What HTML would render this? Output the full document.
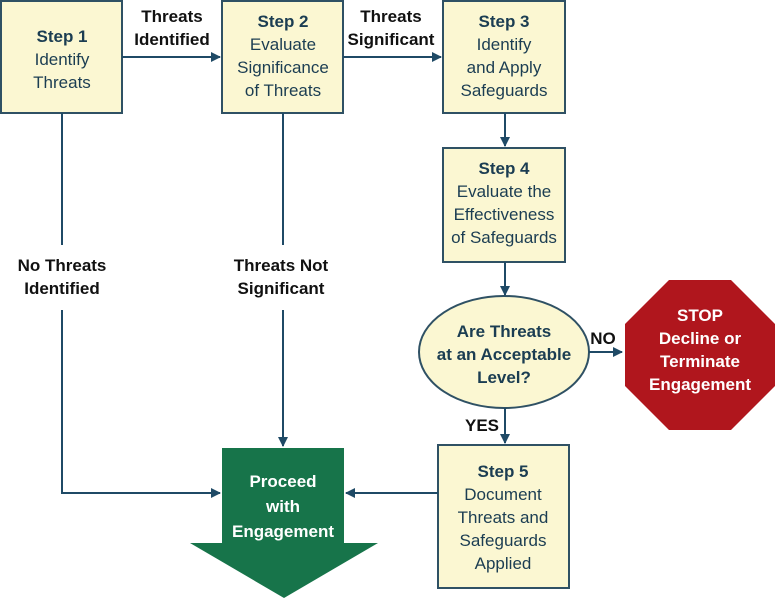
<!DOCTYPE html>
<html><head><style>
body{margin:0;background:#fff}
svg text{font-family:"Liberation Sans",sans-serif;font-size:17px;text-anchor:middle}
.b{font-weight:bold}
.d{fill:#1b3d52}
.w{fill:#fff}
.k{fill:#111}
</style></head><body>
<svg width="775" height="598" viewBox="0 0 775 598" xmlns="http://www.w3.org/2000/svg">
<defs><marker id="a" markerWidth="10" markerHeight="10" refX="9" refY="5" orient="auto" markerUnits="userSpaceOnUse"><path d="M0,0 L10,5 L0,10 Z" fill="#1f4a66"/></marker></defs>
<g fill="#fbf7d2" stroke="#2f5164" stroke-width="2">
<rect x="1" y="1" width="121" height="112"/>
<rect x="222" y="1" width="121" height="112"/>
<rect x="443" y="1" width="122" height="112"/>
<rect x="443" y="148" width="122" height="114"/>
<rect x="438" y="445" width="131" height="143"/>
<ellipse cx="504" cy="352" rx="85" ry="56"/>
</g>
<polygon points="669,280 731,280 775,324 775,386 731,430 669,430 625,386 625,324" fill="#b0161d"/>
<polygon points="222,448 344,448 344,543 378,543 284,598 190,543 222,543" fill="#17744a"/>
<g stroke="#1f4a66" stroke-width="2" fill="none">
<line x1="122" y1="57" x2="220" y2="57" marker-end="url(#a)"/>
<line x1="343" y1="57" x2="441" y2="57" marker-end="url(#a)"/>
<line x1="505" y1="113" x2="505" y2="146" marker-end="url(#a)"/>
<line x1="505" y1="262" x2="505" y2="295" marker-end="url(#a)"/>
<line x1="589" y1="352" x2="622" y2="352" marker-end="url(#a)"/>
<line x1="505" y1="408" x2="505" y2="443" marker-end="url(#a)"/>
<line x1="438" y1="493" x2="346" y2="493" marker-end="url(#a)"/>
<polyline points="62,113 62,245"/>
<polyline points="62,310 62,493 220,493" marker-end="url(#a)"/>
<line x1="283" y1="113" x2="283" y2="245"/>
<line x1="283" y1="310" x2="283" y2="446" marker-end="url(#a)"/>
</g>
<text x="62" y="42" class="b d">Step 1</text>
<text x="62" y="65" class="d">Identify</text>
<text x="62" y="88" class="d">Threats</text>
<text x="283" y="27" class="b d">Step 2</text>
<text x="283" y="50" class="d">Evaluate</text>
<text x="283" y="73" class="d">Significance</text>
<text x="283" y="96" class="d">of Threats</text>
<text x="504" y="27" class="b d">Step 3</text>
<text x="504" y="50" class="d">Identify</text>
<text x="504" y="73" class="d">and Apply</text>
<text x="504" y="96" class="d">Safeguards</text>
<text x="504" y="174" class="b d">Step 4</text>
<text x="504" y="197" class="d">Evaluate the</text>
<text x="504" y="220" class="d">Effectiveness</text>
<text x="504" y="243" class="d">of Safeguards</text>
<text x="504" y="337" class="b d">Are Threats</text>
<text x="504" y="360" class="b d">at an Acceptable</text>
<text x="504" y="383" class="b d">Level?</text>
<text x="503" y="477" class="b d">Step 5</text>
<text x="503" y="500" class="d">Document</text>
<text x="503" y="523" class="d">Threats and</text>
<text x="503" y="546" class="d">Safeguards</text>
<text x="503" y="569" class="d">Applied</text>
<text x="700" y="321" class="b w">STOP</text>
<text x="700" y="344" class="b w">Decline or</text>
<text x="700" y="367" class="b w">Terminate</text>
<text x="700" y="390" class="b w">Engagement</text>
<text x="283" y="487" class="b w">Proceed</text>
<text x="283" y="512" class="b w">with</text>
<text x="283" y="537" class="b w">Engagement</text>
<text x="172" y="22" class="b k">Threats</text>
<text x="172" y="45" class="b k">Identified</text>
<text x="391" y="22" class="b k">Threats</text>
<text x="391" y="45" class="b k">Significant</text>
<text x="62" y="271" class="b k">No Threats</text>
<text x="62" y="294" class="b k">Identified</text>
<text x="281" y="271" class="b k">Threats Not</text>
<text x="281" y="294" class="b k">Significant</text>
<text x="603" y="344" class="b k">NO</text>
<text x="482" y="431" class="b k">YES</text>
</svg>
</body></html>
